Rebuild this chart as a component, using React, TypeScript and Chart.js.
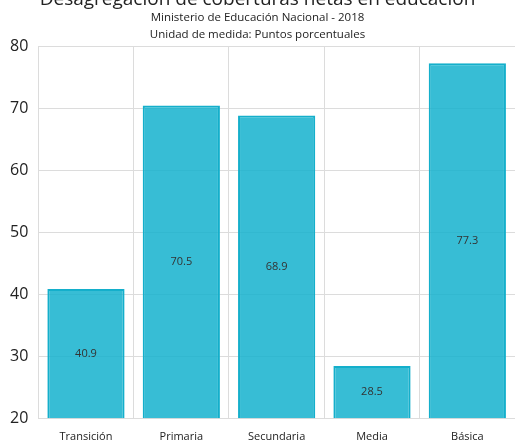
import React, { useEffect, useRef } from "react";
import { Chart, registerables } from "chart.js";

Chart.register(...registerables);

const categories = ["Transición", "Primaria", "Secundaria", "Media", "Básica"];
const values = [40.9, 70.5, 68.9, 28.5, 77.3];
const yMin = 20;
const yMax = 80;
const yStep = 10;
const titleText = "Desagregación de coberturas netas en educación";
const subtitleLines = ["Ministerio de Educación Nacional - 2018", "Unidad de medida: Puntos porcentuales"];

const FONT = "'Open Sans', 'Noto Sans', sans-serif";

const barLabels = {
  id: "barLabels",
  afterDatasetsDraw(chart: any) {
    const ctx = chart.ctx;
    const meta = chart.getDatasetMeta(0);
    ctx.save();
    ctx.font = `11px ${FONT}`;
    ctx.fillStyle = "#333";
    ctx.textAlign = "center";
    ctx.textBaseline = "middle";
    meta.data.forEach((bar: any, i: number) => {
      const base = Math.min(bar.base, chart.chartArea.bottom);
      const yMid = (bar.y + base) / 2;
      ctx.fillText(String(values[i]), bar.x, yMid);
    });
    ctx.restore();
  },
};

export default function App() {
  const ref = useRef<HTMLCanvasElement | null>(null);
  useEffect(() => {
    document.body.style.margin = "0";
    const chart = new Chart(ref.current!, {
      type: "bar",
      data: {
        labels: categories,
        datasets: [
          {
            data: values,
            base: yMin,
            backgroundColor: "rgba(20,178,206,0.85)",
            borderColor: "#14afcb",
            borderWidth: 2,
            barPercentage: 0.9,
            categoryPercentage: 0.9,
          } as any,
        ],
      },
      options: {
        animation: false,
        responsive: false,
        maintainAspectRatio: false,
        layout: { padding: { left: 0, right: 0, top: 0, bottom: 0 } },
        plugins: {
          legend: { display: false },
          tooltip: { enabled: false },
          title: {
            display: true,
            text: titleText,
            color: "#222",
            font: { family: FONT, size: 19, weight: "normal", lineHeight: 1.0 },
            padding: { top: 10, bottom: 0 },
          },
          subtitle: {
            display: true,
            text: subtitleLines,
            color: "#222",
            font: { family: FONT, size: 11.5, weight: "normal", lineHeight: 1.5 },
            padding: { top: 0, bottom: 3 },
          },
        },
        scales: {
          x: {
            grid: { color: "#dcdcdc", drawTicks: false },
            border: { display: false },
            ticks: { color: "#222", font: { family: FONT, size: 11 }, padding: 11 },
          },
          y: {
            min: yMin,
            max: yMax,
            grid: { color: "#dcdcdc", drawTicks: false },
            border: { display: false },
            ticks: { stepSize: yStep, color: "#222", font: { family: FONT, size: 16 }, padding: 10 },
          },
        },
      },
      plugins: [barLabels],
    });
    return () => chart.destroy();
  }, []);
  return (
    <div style={{ position: "absolute", left: 0, top: -20, width: 515, height: 474 }}>
      <canvas ref={ref} width={515} height={474} style={{ width: 515, height: 474 }} />
    </div>
  );
}
